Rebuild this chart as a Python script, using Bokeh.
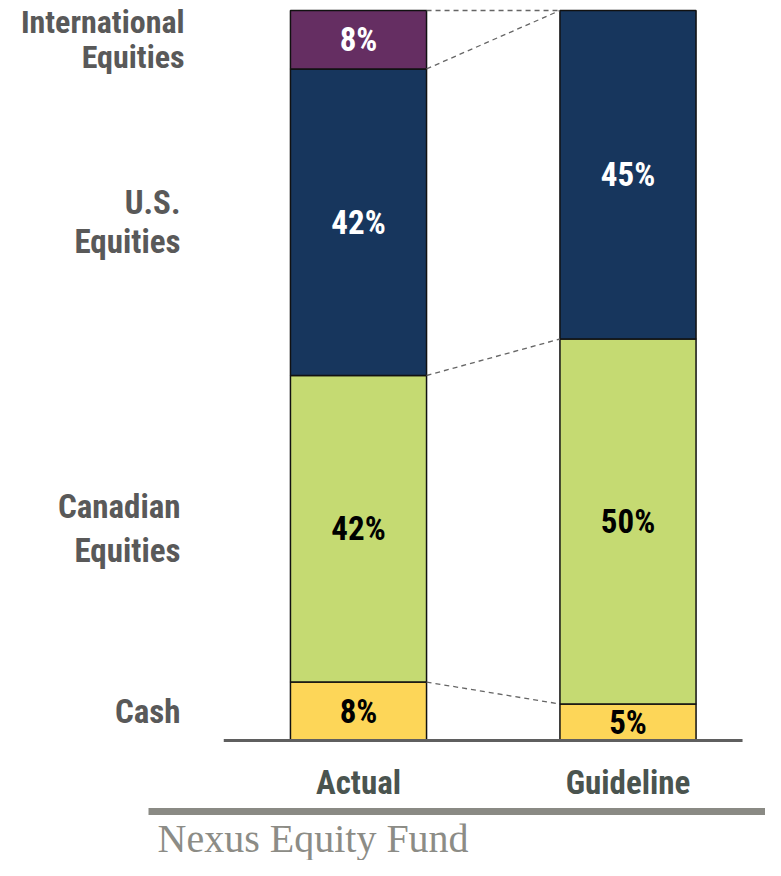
from bokeh.plotting import figure
from bokeh.embed import file_html
from bokeh.resources import INLINE
from bokeh.models import ColumnDataSource, Range1d
from bokeh.core.properties import value

# ---- data ----
bars = ["Actual", "Guideline"]
categories = ["Cash", "Canadian Equities", "U.S. Equities", "International Equities"]
cat_labels = ["Cash", "Canadian\nEquities", "U.S.\nEquities", "International\nEquities"]
actual = [8, 42, 42, 8]
guideline = [5, 50, 45, 0]
colors = ["#fdd658", "#c5da72", "#17365d", "#652e62"]
text_colors = ["#000000", "#000000", "#ffffff", "#ffffff"]
footer = "Nexus Equity Fund"

FONT = value("Roboto Condensed")
BAR_W = 0.505

p = figure(width=765, height=860, output_backend="svg", toolbar_location=None,
           x_axis_type=None, y_axis_type=None, min_border=0,
           x_range=Range1d(-0.32839, 2.51020), y_range=Range1d(-16.438, 101.370))
p.grid.visible = False
p.outline_line_color = None
p.background_fill_color = "white"
p.border_fill_color = "white"

series = [actual, guideline]
xs = [1, 2]

# stacked bars
for xi, vals in zip(xs, series):
    bottoms, tops = [], []
    acc = 0
    for v in vals:
        bottoms.append(acc)
        acc += v
        tops.append(acc)
    keep = [i for i, v in enumerate(vals) if v > 0]
    src = ColumnDataSource(dict(
        x=[xi] * len(keep),
        bottom=[bottoms[i] for i in keep],
        top=[tops[i] for i in keep],
        color=[colors[i] for i in keep],
        mid=[(bottoms[i] + tops[i]) / 2 for i in keep],
        label=["%d%%" % vals[i] for i in keep],
        tcolor=[text_colors[i] for i in keep],
    ))
    p.vbar(x="x", width=BAR_W, bottom="bottom", top="top", source=src,
           fill_color="color", line_color="#111111", line_width=1.5)
    p.text(x="x", y="mid", text="label", source=src, text_color="tcolor",
           text_font=FONT, text_font_style="bold", text_font_size="33px",
           text_align="center", text_baseline="middle")

# dashed connectors between tops of each category
def tops_of(vals):
    acc, out = 0, []
    for v in vals:
        acc += v
        out.append(acc)
    return out

ta, tg = tops_of(actual), tops_of(guideline)
p.segment(x0=[1 + BAR_W / 2] * len(ta), y0=ta, x1=[2 - BAR_W / 2] * len(tg), y1=tg,
          line_color="#666666", line_width=1.3, line_dash="5 4")

# category labels (left), centred on Actual segments
acc = 0
mids = []
for v in actual:
    mids.append(acc + v / 2)
    acc += v
label_x = [0.3395, 0.3395, 0.3395, 0.3545]
label_size = ["33px", "33px", "33px", "32px"]
label_lh = [1.1, 1.12, 1.0, 0.93]
for lx, ly, lt, ls, lh in zip(label_x, mids, cat_labels, label_size, label_lh):
    p.text(x=[lx], y=[ly], text=[lt], text_color="#595959",
           text_font=FONT, text_font_style="bold", text_font_size=ls,
           text_align="right", text_baseline="middle", text_line_height=lh)

# baseline axis
p.segment(x0=[0.5], y0=[0], x1=[2.425], y1=[0], line_color="#5f5f5f", line_width=3)

# bar names
p.text(x=xs, y=[-5.75, -5.75], text=bars, text_color="#4a544f",
       text_font=FONT, text_font_style="bold", text_font_size="33px",
       text_align="center", text_baseline="alphabetic")

# separator
p.segment(x0=[0.2208], y0=[-9.726], x1=[2.6], y1=[-9.726], line_color="#8a8a84", line_width=7)

# footer
p.text(x=[0.2542], y=[-13.4], text=[footer], text_color="#8c8c86",
       text_font=value("Liberation Serif"), text_font_size="40px",
       text_align="left", text_baseline="alphabetic")

open("out.html", "w").write(file_html(p, INLINE))
